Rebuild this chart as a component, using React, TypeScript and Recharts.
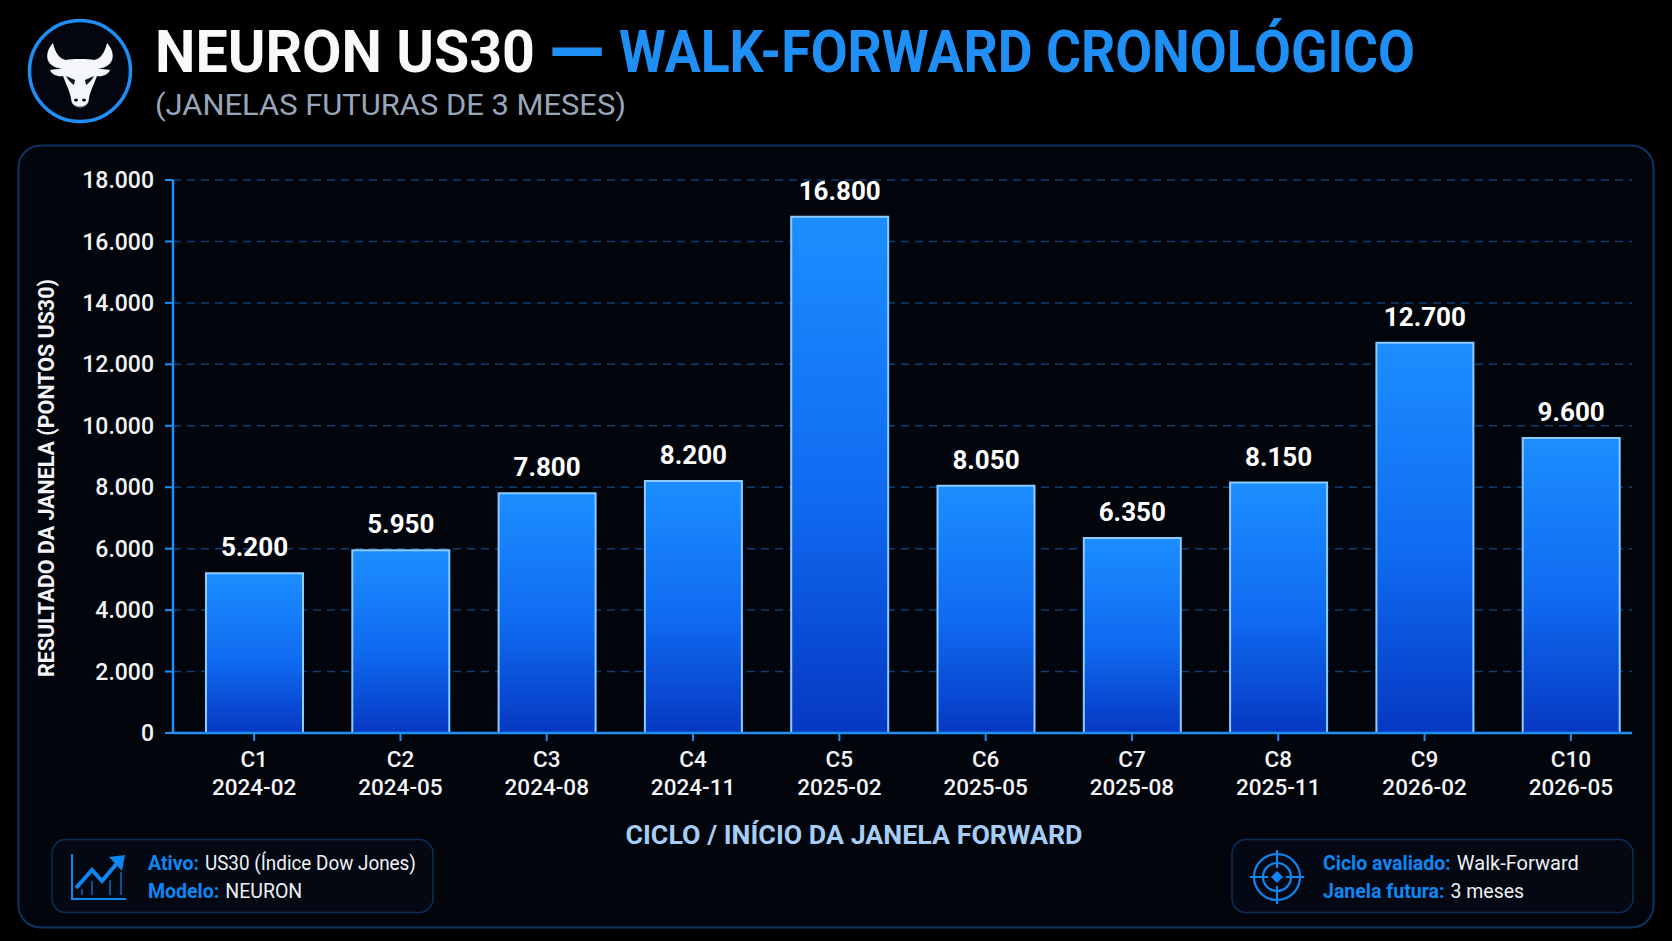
import { Bar, BarChart, CartesianGrid, LabelList, XAxis, YAxis } from "recharts";

const cycles = ["C1", "C2", "C3", "C4", "C5", "C6", "C7", "C8", "C9", "C10"];
const starts = [
  "2024-02",
  "2024-05",
  "2024-08",
  "2024-11",
  "2025-02",
  "2025-05",
  "2025-08",
  "2025-11",
  "2026-02",
  "2026-05",
];
const results = [5200, 5950, 7800, 8200, 16800, 8050, 6350, 8150, 12700, 9600];
const yTicks = [0, 2000, 4000, 6000, 8000, 10000, 12000, 14000, 16000, 18000];

const data = cycles.map((cycle, i) => ({ cycle, start: starts[i], result: results[i] }));

const WIDTH = 1672;
const HEIGHT = 941;
const FONT = "Roboto, sans-serif";
const BLUE = "#1f8ff5";
const LABEL_BLUE = "#0f87f2";

const fmt = (v: number) => String(v).replace(/\B(?=(\d{3})+$)/g, ".");

function CycleTick({ x, y, payload, index }: any) {
  return (
    <text x={x} textAnchor="middle" fill="#f2f4f7" fontFamily={FONT} fontWeight={500} fontSize={22.5}>
      <tspan x={x} y={y + 24}>
        {payload.value}
      </tspan>
      <tspan x={x} y={y + 52}>
        {starts[index]}
      </tspan>
    </text>
  );
}

function BullLogo() {
  return (
    <g>
      <circle cx={80} cy={71} r={50.5} fill="#03060e" stroke={BLUE} strokeWidth={3.5} />
      <path
        fill="#f4f6f9"
        d="M80 59 C74 59 69 59 66 60 C59 59 55 52 53 43 C46 50 43 64 58 68 L62 69 C58 69 54 69 50 70 C52 75 58 77 63 76 C66 84 70 92 71 98 C71 104 75 107 80 107 C85 107 89 104 89 98 C90 92 94 84 97 76 C102 77 108 75 110 70 C106 69 102 69 98 69 L102 68 C117 64 114 50 107 43 C105 52 101 59 94 60 C91 59 86 59 80 59 Z"
      />
      <path fill="#0a1526" d="M66 76 L75 80 L74 85 C71 83 68 80 66 76 Z M94 76 L85 80 L86 85 C89 83 92 80 94 76 Z" />
      <ellipse cx={76} cy={100} rx={2} ry={1.5} fill="#0a1526" />
      <ellipse cx={84} cy={100} rx={2} ry={1.5} fill="#0a1526" />
      <path d="M74 105 Q80 109 86 105" fill="none" stroke="#7f93ad" strokeWidth={1.5} />
    </g>
  );
}

function TrendIcon() {
  return (
    <g stroke={LABEL_BLUE} fill="none">
      <path d="M72 854 V899 H126" strokeWidth={2} />
      <path d="M121 872 V895 M110 880 V895 M92 881 V895 M82 889 V895" stroke="#0c4f94" strokeWidth={2} />
      <path d="M76 888 L92 870 L102 881 L119 861" strokeWidth={4} />
      <path d="M109 857 L125 855 L122 871 Z" fill={LABEL_BLUE} stroke="none" />
    </g>
  );
}

function TargetIcon() {
  return (
    <g stroke={LABEL_BLUE} fill="none" strokeWidth={2.2}>
      <circle cx={1277} cy={877} r={23} />
      <circle cx={1277} cy={877} r={14} />
      <path d="M1250 877 H1268 M1286 877 H1304 M1277 850 V868 M1277 886 V904" />
      <path d="M1277 871 L1283 877 L1277 883 L1271 877 Z" fill={LABEL_BLUE} stroke="none" />
    </g>
  );
}

function InfoLine({ x, y, label, value, valueWidth }: { x: number; y: number; label: string; value: string; valueWidth?: number }) {
  return (
    <text x={x} y={y} fontFamily={FONT} fontSize={19.5}>
      <tspan fill={LABEL_BLUE} fontWeight={700}>
        {label}
      </tspan>
      <tspan fill="#eef1f5" dx={6} textLength={valueWidth} lengthAdjust="spacingAndGlyphs">
        {value}
      </tspan>
    </text>
  );
}

function Decor() {
  return (
    <svg width={WIDTH} height={HEIGHT} style={{ position: "absolute", left: 0, top: 0 }}>
      <rect x={18.5} y={145.5} width={1635} height={782} rx={22} fill="#02050c" stroke="#0b3563" strokeWidth={2} />
      <BullLogo />
      <text x={155} y={72} fontFamily={FONT} fontWeight={700} fontSize={59} fill="#f8f9fb" textLength={380} lengthAdjust="spacingAndGlyphs">
        NEURON US30
      </text>
      <text x={550} y={72} fontFamily={FONT} fontWeight={700} fontSize={59} fill={BLUE} stroke={BLUE} strokeWidth={2} textLength={53} lengthAdjust="spacingAndGlyphs">
        —
      </text>
      <text x={619} y={72} fontFamily={FONT} fontWeight={700} fontSize={59} fill={BLUE} textLength={796} lengthAdjust="spacingAndGlyphs">
        WALK-FORWARD CRONOLÓGICO
      </text>
      <text x={155} y={115} fontFamily={FONT} fontSize={30} fill="#98a6bb" textLength={471} lengthAdjust="spacingAndGlyphs">
        (JANELAS FUTURAS DE 3 MESES)
      </text>
      <text
        transform="translate(54 478) rotate(-90)"
        textAnchor="middle"
        fontFamily={FONT}
        fontWeight={700}
        fontSize={21.5}
        fill="#f2f4f7"
        textLength={398}
        lengthAdjust="spacingAndGlyphs"
      >
        RESULTADO DA JANELA (PONTOS US30)
      </text>
      <text x={854} y={844} textAnchor="middle" fontFamily={FONT} fontWeight={700} fontSize={26} fill="#a6cdf5" textLength={457} lengthAdjust="spacingAndGlyphs">
        CICLO / INÍCIO DA JANELA FORWARD
      </text>
      <rect x={52} y={839.5} width={381} height={73} rx={14} fill="#030812" stroke="#0b2f57" strokeWidth={1.5} />
      <rect x={1232} y={839.5} width={401} height={73} rx={14} fill="#030812" stroke="#0b2f57" strokeWidth={1.5} />
      <TrendIcon />
      <TargetIcon />
      <InfoLine x={148} y={870} label="Ativo:" value="US30 (Índice Dow Jones)" valueWidth={211} />
      <InfoLine x={148} y={898} label="Modelo:" value="NEURON" />
      <InfoLine x={1323} y={870} label="Ciclo avaliado:" value="Walk-Forward" valueWidth={122} />
      <InfoLine x={1323} y={898} label="Janela futura:" value="3 meses" />
    </svg>
  );
}

export default function App() {
  return (
    <div style={{ position: "absolute", left: 0, top: 0, width: WIDTH, height: HEIGHT, background: "#000", overflow: "hidden" }}>
      <Decor />
      <div style={{ position: "absolute", left: 0, top: 0 }}>
        <BarChart width={WIDTH} height={HEIGHT} data={data} margin={{ top: 180, right: 40, bottom: 148, left: 73 }}>
          <defs>
            <linearGradient id="barFill" x1="0" y1="0" x2="0" y2="1">
              <stop offset="0%" stopColor="#1c8eff" />
              <stop offset="55%" stopColor="#0f6af0" />
              <stop offset="100%" stopColor="#0638c2" />
            </linearGradient>
          </defs>
          <CartesianGrid vertical={false} stroke="#0e3f72" strokeWidth={1.5} strokeDasharray="8 6" />
          <XAxis
            dataKey="cycle"
            height={60}
            interval={0}
            padding={{ left: 8, right: -12 }}
            tick={<CycleTick />}
            tickSize={8}
            axisLine={{ stroke: BLUE, strokeWidth: 2.5 }}
            tickLine={{ stroke: BLUE, strokeWidth: 2 }}
          />
          <YAxis
            width={100}
            domain={[0, 18000]}
            ticks={yTicks}
            interval={0}
            tickFormatter={fmt}
            tickSize={8}
            tickMargin={11}
            axisLine={{ stroke: BLUE, strokeWidth: 2.5 }}
            tickLine={{ stroke: BLUE, strokeWidth: 2 }}
            tick={{ fill: "#f2f4f7", fontFamily: FONT, fontWeight: 500, fontSize: 23 }}
          />
          <Bar dataKey="result" barSize={97} fill="url(#barFill)" stroke="#8ccbff" strokeWidth={2} isAnimationActive={false}>
            <LabelList
              dataKey="result"
              position="top"
              offset={17}
              formatter={fmt}
              style={{ fill: "#ffffff", fontFamily: FONT, fontWeight: 700, fontSize: 26, stroke: "none" }}
            />
          </Bar>
        </BarChart>
      </div>
    </div>
  );
}
